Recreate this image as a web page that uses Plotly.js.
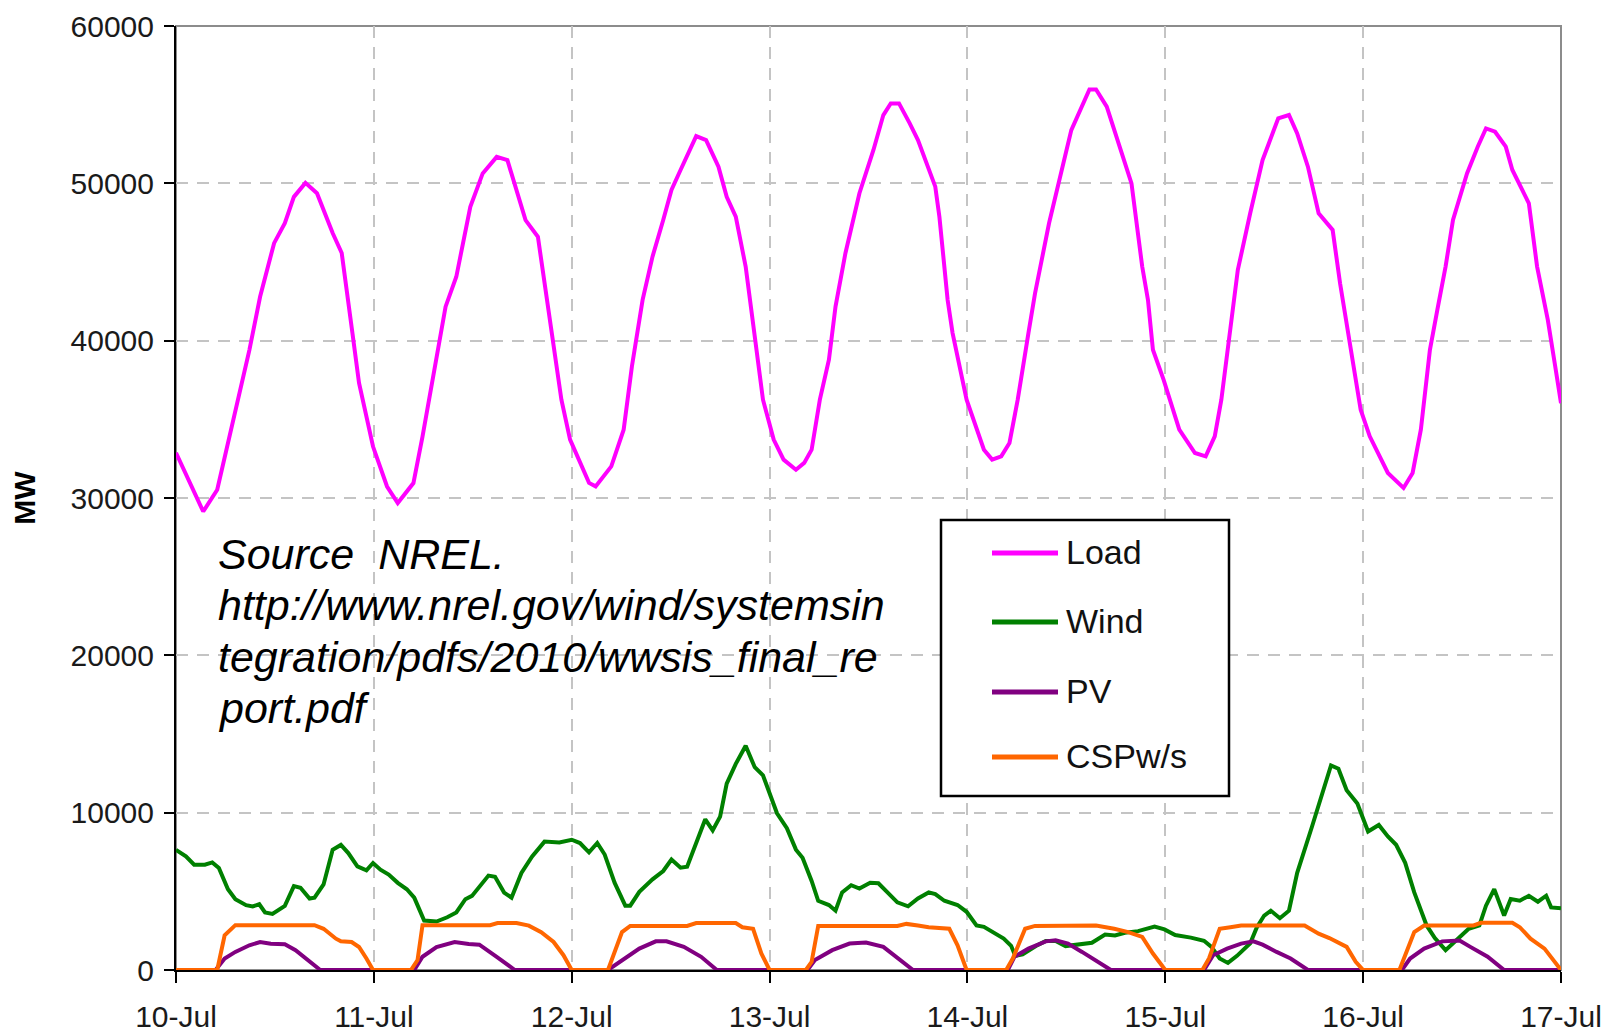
<!DOCTYPE html>
<html>
<head>
<meta charset="utf-8">
<script src="https://cdn.plot.ly/plotly-3.0.1.min.js"></script>
<style>
html,body{margin:0;padding:0;background:#ffffff;}
#chart{width:1610px;height:1033px;}
</style>
</head>
<body>
<div id="chart"></div>
<script>
// ---------------- DATA ----------------
// hours are counted from 10-Jul 00:00
const tickDates  = ['2006-07-10','2006-07-11','2006-07-12','2006-07-13','2006-07-14','2006-07-15','2006-07-16','2006-07-17'];
const tickLabels = ['10-Jul','11-Jul','12-Jul','13-Jul','14-Jul','15-Jul','16-Jul','17-Jul'];
const yTicks     = [0,10000,20000,30000,40000,50000,60000];
const seriesNames  = ['Load','Wind','PV','CSPw/s'];
const seriesColors = ['#ff00ff','#008000','#800080','#ff6600'];

const loadHours = [0,3.3,5.0,7.0,8.9,10.2,11.9,13.2,14.3,15.7,17.1,19.0,20.1,21.4,22.2,23.9,
  25.6,26.9,28.8,29.9,31.2,32.7,34.0,35.7,37.2,38.9,40.2,42.4,43.9,45.7,46.75,47.8,
  49.25,50.1,50.9,52.8,54.3,55.3,56.6,57.8,59.1,60.1,61.2,63.1,64.3,65.8,66.8,67.9,69.1,70.2,71.2,
  72.5,73.7,75.2,76.2,77.1,78.1,79.2,80.0,81.2,82.9,84.6,85.8,86.7,87.7,89.0,90.0,92.1,92.6,93.6,94.2,95.9,
  98.0,99.0,100.1,101.1,102.1,103.4,104.2,105.9,107.2,108.6,110.8,111.6,112.9,114.2,115.9,117.2,117.9,118.5,119.8,
  121.7,123.6,124.9,126.0,126.8,127.7,128.8,130.3,131.8,133.7,135.0,136.0,137.3,138.6,140.3,141.2,142.5,143.7,
  144.8,147.0,148.9,150.0,151.0,152.1,153.0,154.0,154.9,156.6,157.9,158.9,160.0,161.3,162.1,164.1,165.1,166.4,167.3,168.0];
const loadMW = [32870,29140,30520,35170,39400,42790,46200,47470,49140,50030,49370,46840,45570,40490,37310,33270,
  30730,29680,30950,33900,37710,42160,44060,48510,50630,51680,51470,47660,46600,40050,36250,33710,
  32010,30960,30740,32010,34340,38360,42590,45340,47670,49580,50850,53000,52750,51060,49150,47880,44710,40480,36250,
  33710,32440,31800,32230,33070,36250,38790,42170,45560,49370,52120,54340,55080,55080,53810,52750,49790,47880,42590,40480,36250,
  33070,32440,32650,33500,36250,40480,43010,47460,50420,53380,55970,55970,54870,52750,50000,44710,42590,39420,37510,
  34340,32860,32650,33920,36250,40060,44500,48100,51480,54130,54340,53170,51060,48100,47040,43650,39420,35610,
  33920,31590,30640,31590,34340,39420,41960,44710,47670,50630,52330,53490,53280,52330,50850,48730,44710,41320,38360,36030];

const windHours = [0,1.2,2.2,3.5,4.4,5.2,6.3,7.2,8.5,9.3,10.1,10.8,11.7,13.2,14.3,15.1,16.2,16.8,17.9,19.0,20.0,20.9,22.0,23.1,
  23.9,24.8,25.8,26.9,28.0,28.9,29.5,30.1,31.6,32.9,34.0,35.1,35.9,36.8,37.9,38.7,39.8,40.7,41.9,43.2,44.7,46.5,
  48.0,49.0,50.1,51.1,52.0,53.2,54.5,55.1,56.2,57.8,59.1,60.1,61.2,62.0,63.3,64.2,65.1,66.0,66.8,67.9,69.1,70.2,71.2,
  72.0,72.9,74.1,75.2,76.0,77.1,77.9,79.2,80.0,80.8,81.9,82.9,84.2,85.2,86.3,87.5,88.8,90.0,91.3,92.1,93.2,94.8,95.9,
  97.1,98.0,99.2,100.4,101.3,101.8,102.7,104.3,105.5,106.7,107.9,109.5,111.1,112.7,113.9,115.1,116.7,118.7,119.9,
  121.2,123.1,124.7,125.6,126.6,127.6,128.7,130.3,131.1,132.0,132.8,133.9,135.0,136.0,137.8,139.0,140.1,141.0,142.0,143.3,
  144.6,145.9,147.0,148.0,149.1,150.2,151.7,152.7,154.0,155.3,156.8,158.1,158.9,159.9,161.1,161.9,163.0,164.1,165.2,166.2,166.8,168.0];
const windMW = [7640,7220,6690,6690,6840,6490,5130,4500,4120,4040,4180,3660,3560,4080,5330,5230,4540,4600,5440,7640,7950,7430,6590,6340,
  6800,6380,6070,5540,5130,4600,3870,3140,3080,3350,3660,4500,4710,5330,6000,5920,4920,4600,6170,7220,8160,8110,
  8280,8070,7480,8070,7340,5550,4090,4090,4970,5760,6290,7020,6500,6560,8280,9580,8870,9750,11840,13100,14250,12890,12370,
  11210,9960,9010,7650,7130,5660,4400,4130,3770,4930,5390,5180,5550,5510,4930,4300,4050,4550,4930,4820,4400,4130,3700,
  2830,2740,2400,2000,1540,900,990,1520,1840,1840,1520,1630,1730,2260,2200,2370,2470,2760,2580,
  2220,2060,1860,1470,730,450,900,1700,2700,3460,3770,3290,3770,6180,9120,11210,13000,12790,11420,10580,
  8800,9220,8490,7960,6810,4930,2830,2030,1260,1890,2620,2830,4090,5140,3460,4510,4400,4720,4340,4720,3980,3920];

const pvHours = [0,4.8,5.9,7.2,8.9,10.2,11.5,13.2,14.5,16.2,17.5,
  28.9,29.9,31.6,33.8,35.5,36.8,38.9,41.1,
  52.4,54.1,56.2,58.2,59.5,61.6,63.7,65.6,
  76.6,77.5,79.6,81.7,83.7,85.8,87.9,89.4,
  100.9,101.7,103.4,105.5,106.7,108.2,109.9,111.2,113.4,
  124.7,125.8,127.5,129.2,130.7,131.8,133.5,135.2,137.3,
  148.7,149.7,151.4,153.6,155.7,157.0,159.1,161.1,168.0];
const pvMW = [0,0,730,1150,1570,1780,1670,1630,1260,520,0,
  0,840,1460,1780,1650,1610,840,0,
  0,630,1360,1820,1820,1470,840,0,
  0,630,1260,1680,1740,1470,630,0,
  0,840,1360,1820,1890,1680,1150,730,0,
  0,940,1360,1680,1820,1610,1150,730,0,
  0,730,1360,1820,1870,1470,840,0,0];

const cspHours = [0,5.0,5.9,7.2,16.8,17.9,19.4,20.0,21.3,22.2,23.1,23.9,
  28.5,29.3,29.9,38.1,39.0,41.3,42.8,44.3,45.8,47.0,48.0,
  52.4,54.1,55.1,62.0,63.1,67.9,68.7,70.0,71.0,72.0,
  76.4,77.1,77.9,87.5,88.6,90.0,91.3,93.8,94.8,95.9,
  100.7,101.5,103.0,104.2,111.6,113.8,115.5,117.2,118.5,120.0,
  124.5,125.3,126.6,127.9,129.2,136.9,138.6,139.9,141.2,142.0,143.1,144.0,
  148.4,149.3,150.2,151.4,157.4,158.3,162.1,163.0,164.3,166.0,167.3,168.0];
const cspMW = [0,0,2200,2850,2850,2620,1990,1820,1780,1460,730,0,
  0,630,2850,2850,2980,2980,2820,2400,1780,940,0,
  0,2410,2800,2800,2980,2980,2720,2620,1050,0,
  0,520,2800,2800,2930,2830,2720,2620,1570,0,
  0,730,2620,2800,2830,2620,2410,2100,1050,0,
  0,730,2620,2720,2830,2830,2310,2030,1680,1470,520,0,
  0,1150,2410,2830,2830,3000,3000,2720,1990,1360,520,0];

const sourceLines = ['Source\u00a0 NREL.','http://www.nrel.gov/wind/systemsin','tegration/pdfs/2010/wwsis_final_re','port.pdf'];

// ---------------- helpers ----------------
const START = Date.UTC(2006,6,10);
function hourToDate(h){
  return new Date(START + Math.round(h*3600000)).toISOString().slice(0,19).replace('T',' ');
}

// ---------------- layout geometry ----------------
const W=1610, H=1033, ML=176, MR=49, MT=26, MB=63;
const PW=W-ML-MR, PH=H-MT-MB;
const px = x => (x-ML)/PW;
const py = y => 1-(y-MT)/PH;

const tickFont = {family:'Liberation Sans, Arial, sans-serif', size:30, color:'#1a1a1a'};

const seriesX = [loadHours, windHours, pvHours, cspHours];
const seriesY = [loadMW, windMW, pvMW, cspMW];
const traces = seriesNames.map((n,i)=>({
  type:'scatter', mode:'lines', name:n,
  x: seriesX[i].map(hourToDate), y: seriesY[i],
  line:{color:seriesColors[i], width:4},
  showlegend:false, hoverinfo:'x+y+name'
}));

// manual legend (box, line samples, labels)
const legendBox = {x0:941, x1:1229, y0:520, y1:796};
const legendRowY = [553, 622, 692, 757];
const legendLineX = [992, 1058];
const legendTextX = 1064;

const shapes = [
  {type:'rect', xref:'paper', yref:'paper', x0:0, x1:1, y0:0, y1:1, layer:'below',
   line:{color:'#8c8c8c', width:2}, fillcolor:'rgba(0,0,0,0)'},
  {type:'rect', xref:'paper', yref:'paper', x0:px(legendBox.x0), x1:px(legendBox.x1),
   y0:py(legendBox.y1), y1:py(legendBox.y0), line:{color:'#000', width:2.5}, fillcolor:'#ffffff'}
];
seriesNames.forEach((n,i)=>{
  shapes.push({type:'line', xref:'paper', yref:'paper',
    x0:px(legendLineX[0]), x1:px(legendLineX[1]), y0:py(legendRowY[i]), y1:py(legendRowY[i]),
    line:{color:seriesColors[i], width:5}});
});

const annotations = [];
seriesNames.forEach((n,i)=>{
  annotations.push({xref:'paper', yref:'paper', x:px(legendTextX), y:py(legendRowY[i]-1),
    xanchor:'left', yanchor:'middle', showarrow:false, text:n,
    font:{family:'Liberation Sans, Arial, sans-serif', size:34, color:'#111'}});
});
const sourceY = [554, 605, 657, 708];
sourceLines.forEach((t,i)=>{
  annotations.push({xref:'paper', yref:'paper', x:px(216), y:py(sourceY[i]),
    xanchor:'left', yanchor:'middle', showarrow:false, text:t,
    font:{family:'Liberation Sans, Arial, sans-serif', size:43, color:'#000', style:'italic'}});
});

const layout = {
  width:W, height:H,
  margin:{l:ML, r:MR, t:MT, b:MB, pad:0},
  paper_bgcolor:'#ffffff', plot_bgcolor:'#ffffff',
  showlegend:false,
  xaxis:{
    type:'date',
    range:[hourToDate(0), hourToDate(168)],
    tickmode:'array', tickvals:tickDates, ticktext:tickLabels,
    showgrid:true, gridcolor:'#c4c4c4', gridwidth:2, griddash:'12px,9px',
    showline:true, linecolor:'#000', linewidth:2,
    ticks:'outside', ticklen:11, tickwidth:2, tickcolor:'#000',
    tickfont:tickFont, ticklabelstandoff:8,
    zeroline:false, fixedrange:true
  },
  yaxis:{
    range:[0,60000],
    tickmode:'array', tickvals:yTicks, ticktext:yTicks.map(String),
    showgrid:true, gridcolor:'#c4c4c4', gridwidth:2, griddash:'12px,9px',
    showline:true, linecolor:'#000', linewidth:2,
    ticks:'outside', ticklen:10, tickwidth:2, tickcolor:'#000',
    tickfont:tickFont, ticklabelstandoff:4,
    zeroline:false, fixedrange:true,
    title:{text:'MW', font:{family:'Liberation Sans, Arial, sans-serif', size:30, color:'#000', weight:'bold'}, standoff:26}
  },
  shapes:shapes,
  annotations:annotations
};

Plotly.newPlot('chart', traces, layout, {displayModeBar:false, staticPlot:true});
</script>
</body>
</html>
